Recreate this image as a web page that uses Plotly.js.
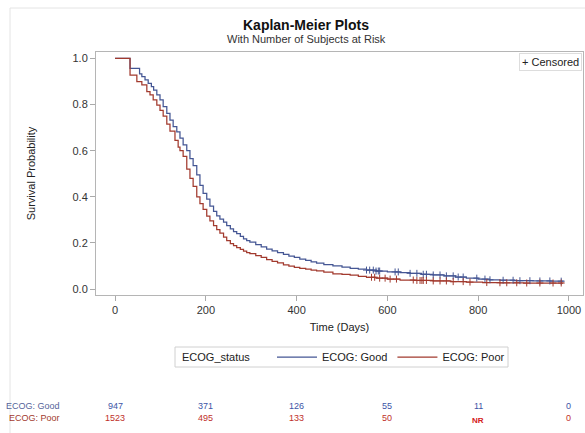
<!DOCTYPE html>
<html><head><meta charset="utf-8">
<script src="https://cdn.plot.ly/plotly-3.0.1.min.js"></script>
<style>html,body{margin:0;padding:0;background:#fff}</style>
</head><body><div id="chart" style="width:585px;height:433px"></div>
<script>
// ECOG: Good survival curve (step points)
const goodTime=[0,33,54,59,66,73,80,85,92,99,106,114,121,128,136,143,150,158,165,172,180,187,194,202,209,217,224,231,239,246,254,261,268,276,283,290,297,310,322,334,346,358,371,383,395,407,420,432,444,460,480,500,518,536,554,575,600,628,650,675,701,725,750,774,800,825,848,880,921,960,987];
const goodSurv=[1.0,0.957,0.933,0.921,0.907,0.892,0.878,0.863,0.842,0.82,0.791,0.762,0.733,0.704,0.682,0.654,0.625,0.6,0.565,0.535,0.495,0.45,0.415,0.39,0.36,0.337,0.317,0.303,0.29,0.275,0.261,0.249,0.24,0.228,0.218,0.21,0.203,0.193,0.183,0.173,0.165,0.158,0.15,0.143,0.137,0.13,0.124,0.118,0.112,0.106,0.1,0.095,0.09,0.086,0.082,0.078,0.074,0.071,0.068,0.064,0.061,0.057,0.052,0.047,0.043,0.04,0.038,0.036,0.035,0.034,0.033];
// ECOG: Poor survival curve (step points)
const poorTime=[0,33,48,59,70,77,84,92,99,106,114,121,132,139,143,150,158,165,172,180,187,194,202,209,217,224,231,239,246,254,261,268,276,283,290,297,310,322,334,346,358,371,383,395,407,420,432,444,460,480,500,518,536,554,575,600,628,660,701,740,774,810,848,900,940,987];
const poorSurv=[1.0,0.928,0.899,0.885,0.856,0.842,0.82,0.798,0.775,0.75,0.715,0.685,0.645,0.615,0.6,0.575,0.52,0.48,0.445,0.4,0.37,0.345,0.316,0.295,0.275,0.258,0.242,0.225,0.21,0.197,0.188,0.18,0.172,0.164,0.158,0.153,0.145,0.137,0.128,0.12,0.113,0.105,0.099,0.094,0.09,0.086,0.082,0.079,0.073,0.066,0.063,0.06,0.055,0.051,0.047,0.043,0.039,0.037,0.035,0.032,0.03,0.028,0.027,0.026,0.026,0.025];
// Censored times
const goodCensor=[554,561,569,575,580,583,617,624,650,665,679,686,701,716,730,745,756,767,797,815,826,855,877,892,914,936,958,983];
const poorCensor=[565,572,583,595,606,620,657,665,672,676,679,686,701,716,730,745,767,782,819,848,863,885,907,936,965,983];
// Number at risk table
const riskTimes=[0,200,400,600,800,1000];
const goodRisk=['947','371','126','55','11','0'];
const poorRisk=['1523','495','133','50','NR','0'];
const groupNames=['ECOG: Good','ECOG: Poor'];
const legendTitle='ECOG_status';

const blue='#445694', red='#A23A2E';
function survAt(times,surv,t){let v=surv[0];for(let i=0;i<times.length;i++){if(times[i]<=t)v=surv[i];}return v;}

const traces=[
 {x:goodTime,y:goodSurv,type:'scatter',mode:'lines',line:{shape:'hv',color:blue,width:1.25},name:groupNames[0]},
 {x:poorTime,y:poorSurv,type:'scatter',mode:'lines',line:{shape:'hv',color:red,width:1.25},name:groupNames[1]},
 {x:goodCensor,y:goodCensor.map(t=>survAt(goodTime,goodSurv,t)),type:'scatter',mode:'markers',showlegend:false,
  marker:{symbol:'cross-thin-open',size:5,color:blue,line:{color:blue,width:1}}},
 {x:poorCensor,y:poorCensor.map(t=>survAt(poorTime,poorSurv,t)),type:'scatter',mode:'markers',showlegend:false,
  marker:{symbol:'cross-thin-open',size:5,color:red,line:{color:red,width:1}}}
];

const F='Liberation Sans, Arial, sans-serif';
const pyTop=52, pyBot=295, H=pyBot-pyTop, W=487, L=96;
function py(p){return (pyBot-p)/H;}
function px(p){return (p-L)/W;}
const ann=[];
ann.push({xref:'paper',yref:'paper',x:0.998,y:0.996,xanchor:'right',yanchor:'top',text:'+ Censored',showarrow:false,
  font:{family:F,size:11,color:'#222'},bordercolor:'#dddddd',borderwidth:1,borderpad:2,bgcolor:'#fff'});
ann.push({xref:'paper',yref:'paper',x:px(306),y:py(39),xanchor:'center',yanchor:'middle',text:'With Number of Subjects at Risk',showarrow:false,
  font:{family:F,size:11,color:'#333'}});
ann.push({xref:'paper',yref:'paper',x:px(180),y:py(357),xanchor:'left',yanchor:'middle',text:legendTitle,showarrow:false,
  font:{family:F,size:11,color:'#222'}});
const rows=[{vals:goodRisk,lab:groupNames[0],y:406,lc:'#55649a',nc:'#3d54a6'},{vals:poorRisk,lab:groupNames[1],y:418,lc:'#a23a2e',nc:'#c0302a'}];
rows.forEach(r=>{
  ann.push({xref:'paper',yref:'paper',x:px(62),y:py(r.y),xanchor:'right',yanchor:'middle',text:r.lab,showarrow:false,font:{family:F,size:9,color:r.lc}});
  r.vals.forEach((v,i)=>{
    const nr=v==='NR';
    ann.push({xref:'x',yref:'paper',x:riskTimes[i],y:py(r.y+(nr?2:0)),xanchor:'center',yanchor:'middle',text:nr?'<b>NR</b>':v,showarrow:false,
      font:{family:F,size:nr?8:9,color:nr?'#d42020':r.nc}});
  });
});

const layout={
  width:585,height:433,paper_bgcolor:'#fff',plot_bgcolor:'#fff',
  margin:{l:L,r:2,t:pyTop,b:433-pyBot,autoexpand:false},
  font:{family:F,size:11,color:'#333'},
  title:{text:'<b>Kaplan-Meier Plots</b>',x:306/585,xref:'container',xanchor:'center',y:1-25/433,yref:'container',yanchor:'middle',font:{family:F,size:14,color:'#111'}},
  xaxis:{range:[-42,1031],tickvals:riskTimes,ticks:'outside',ticklen:5,tickcolor:'#aaa',showline:true,linecolor:'#b5b5b5',mirror:true,
    showgrid:false,zeroline:false,tickfont:{family:F,size:11,color:'#333'},
    title:{text:'Time (Days)',font:{family:F,size:11,color:'#222'},standoff:8}},
  yaxis:{range:[-0.026,1.028],tickvals:[0,0.2,0.4,0.6,0.8,1.0],tickformat:'.1f',ticks:'outside',ticklen:5,tickcolor:'#aaa',showline:true,linecolor:'#b5b5b5',mirror:true,
    showgrid:false,zeroline:false,tickfont:{family:F,size:11,color:'#333'},
    title:{text:'Survival Probability',font:{family:F,size:11,color:'#222'},standoff:34}},
  legend:{orientation:'h',x:px(272),xanchor:'left',y:py(357),yanchor:'middle',borderwidth:0,
    font:{family:F,size:11,color:'#222'},itemwidth:40,bgcolor:'rgba(0,0,0,0)'},
  shapes:[
    {type:'rect',xref:'paper',yref:'paper',x0:px(10),x1:1.2,y0:py(440),y1:py(8),line:{color:'#e4e4e4',width:1},layer:'below'},
    {type:'rect',xref:'paper',yref:'paper',x0:px(175),x1:px(508),y0:py(367),y1:py(347),line:{color:'#d0d0d0',width:1},layer:'below'}
  ],
  annotations:ann,
  showlegend:true
};
Plotly.newPlot('chart',traces,layout,{staticPlot:true,displayModeBar:false});
</script></body></html>
